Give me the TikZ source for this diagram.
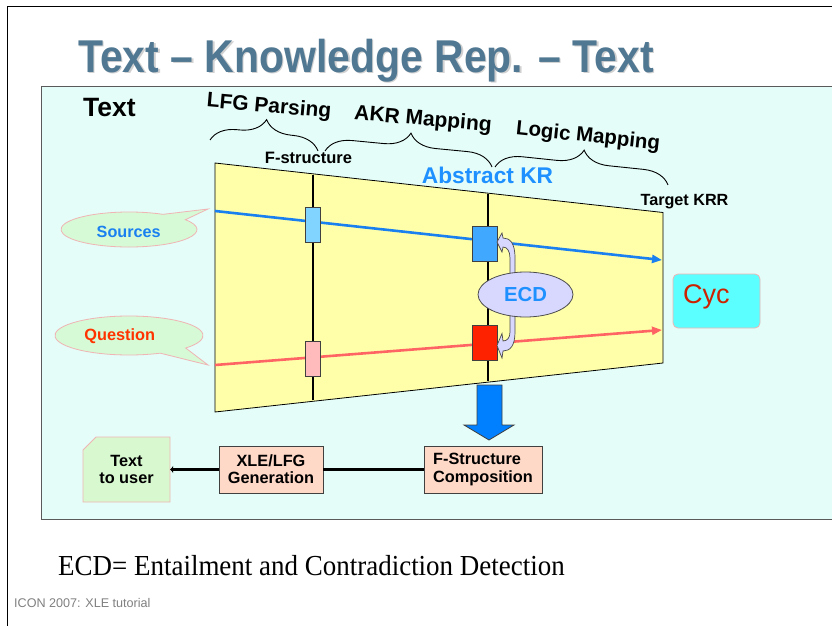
\documentclass[tikz,border=0pt]{standalone}
\usepackage{fontspec}
\setmainfont{Liberation Serif}
\newfontfamily\arialf{Liberation Sans}
\usetikzlibrary{arrows.meta,shapes.geometric,decorations.pathreplacing,calc}

\definecolor{titleblue}{RGB}{80,120,146}
\definecolor{panelbg}{RGB}{228,253,248}
\definecolor{panelbd}{RGB}{90,90,90}
\definecolor{quadyellow}{RGB}{255,255,170}
\definecolor{srcblue}{RGB}{26,128,240}
\definecolor{textblue}{RGB}{30,144,255}
\definecolor{qred}{RGB}{255,100,100}
\definecolor{qtext}{RGB}{255,51,0}
\definecolor{boxlblue}{RGB}{128,212,255}
\definecolor{boxmblue}{RGB}{64,168,255}
\definecolor{boxred}{RGB}{255,34,0}
\definecolor{boxpink}{RGB}{255,187,187}
\definecolor{callfill}{RGB}{214,250,214}
\definecolor{callbd}{RGB}{240,180,180}
\definecolor{ecdfill}{RGB}{216,216,255}
\definecolor{cycfill}{RGB}{92,255,255}
\definecolor{cyctext}{RGB}{204,34,0}
\definecolor{downblue}{RGB}{0,128,255}
\definecolor{peach}{RGB}{255,217,200}
\definecolor{userfill}{RGB}{216,248,208}

\begin{document}
\begin{tikzpicture}[x=1pt,y=-1pt,
  lbl/.style={font=\arialf\bfseries\fontsize{16.3}{17.3}\selectfont, inner sep=0pt},
  hdr/.style={font=\arialf\bfseries\fontsize{21}{24}\selectfont, inner sep=0pt},
  smallbox/.style={draw=black!75, line width=0.8pt, minimum width=15pt, minimum height=35pt, inner sep=0pt},
  akrbox/.style={draw=black!75, line width=0.8pt, minimum width=25pt, minimum height=35pt, inner sep=0pt},
  procbox/.style={draw=black!75, fill=peach, line width=0.8pt, minimum height=47pt, inner sep=0pt,
     font=\arialf\bfseries\fontsize{16.3}{17.3}\selectfont},
  flowline/.style={line width=2.6pt},
  stageline/.style={line width=2.8pt},
  brc/.style={decorate, decoration={brace, amplitude=26pt}, line width=0.9pt},
  callout/.style={fill=callfill, draw=callbd, line width=0.8pt},
  ecdarrow/.style={fill=ecdfill, draw=black!70, line width=0.7pt},
]
\useasboundingbox (0,0) rectangle (832,626);
\fill[white] (0,0) rectangle (832,626);

% slide frame
\coordinate (fTL) at (7,6);
\coordinate (fTR) at (832,6);
\coordinate (fBL) at (7,626);
\draw[line width=0.8pt] (fTR) -- (fTL) -- (fBL);

% title with shadow
\node[anchor=base west, inner sep=0pt, xscale=0.89, text=black!18,
  font=\arialf\bfseries\fontsize{46}{50}\selectfont] (titleshadow) at (79.5,73.8) {Text – Knowledge Rep. – Text};
\node[anchor=base west, inner sep=0pt, xscale=0.89, text=titleblue,
  font=\arialf\bfseries\fontsize{46}{50}\selectfont] (title) at (78,72) {Text – Knowledge Rep. – Text};

% panel
\fill[panelbg] (41,86.5) rectangle (832,519);
\coordinate (pTR) at (832,86.5);
\coordinate (pTL) at (41,86.5);
\coordinate (pBL) at (41,519);
\coordinate (pBR) at (832,519);
\draw[panelbd, line width=1pt] (pTR) -- (pTL) -- (pBL) -- (pBR);

\node[anchor=base west, inner sep=0pt, font=\arialf\bfseries\fontsize{26.5}{30}\selectfont] (textlbl) at (83,116) {Text};

% braces and stage labels
\coordinate (b1a) at (210,140); \coordinate (b1b) at (318,151);
\coordinate (b2a) at (325,151); \coordinate (b2b) at (492,167);
\coordinate (b3a) at (495,167); \coordinate (b3b) at (668,185);
\draw[brc] (b1a) -- (b1b);
\draw[brc] (b2a) -- (b2b);
\draw[brc] (b3a) -- (b3b);
\node[hdr, rotate=-5] (lfgp) at (269,107) {LFG Parsing};
\node[hdr, rotate=-5] (akrm) at (423,120) {AKR Mapping};
\node[hdr, rotate=-6, font=\arialf\bfseries\fontsize{20.5}{24}\selectfont] (logm) at (588,137) {Logic Mapping};

\node[anchor=base, inner sep=0pt, font=\arialf\bfseries\fontsize{16.5}{18}\selectfont] (fstr) at (308.5,163.5) {F-structure};
\node[anchor=base, inner sep=0pt, text=textblue, font=\arialf\bfseries\fontsize{22.7}{26}\selectfont] (akr) at (487.5,183.5) {Abstract KR};
\node[anchor=base, inner sep=0pt, font=\arialf\bfseries\fontsize{16.2}{18}\selectfont] (tkrr) at (684.5,205) {Target KRR};

% yellow trapezoid
\coordinate (qTL) at (215,163);
\coordinate (qTR) at (663,212.5);
\coordinate (qBR) at (663,363);
\coordinate (qBL) at (215,412);
\filldraw[fill=quadyellow, draw=black, line width=0.8pt] (qTL) -- (qTR) -- (qBR) -- (qBL) -- cycle;

% flows
\coordinate (s0) at (215,211); \coordinate (s1) at (662,260);
\coordinate (q0) at (215,365); \coordinate (q1) at (662,330);
\draw[srcblue, line width=2.6pt, -{Triangle[length=10pt,width=8pt]}] (s0) -- (s1);
\draw[qred, line width=2.6pt, -{Triangle[length=10pt,width=8pt]}] (q0) -- (q1);

% stage lines
\coordinate (v1a) at (313,175); \coordinate (v1b) at (313,400);
\coordinate (v2a) at (488,194); \coordinate (v2b) at (488,381);
\draw[stageline] (v1a) -- (v1b);
\draw[stageline] (v2a) -- (v2b);

% boxes on lines
\node[smallbox, fill=boxlblue] (fs1) at (313,224.5) {};
\node[smallbox, fill=boxpink] (fs2) at (313,359) {};
\node[akrbox, fill=boxmblue] (ak1) at (484.5,243.5) {};
\node[akrbox, fill=boxred] (ak2) at (484.5,343) {};

% ECD curved arrows
\filldraw[ecdarrow] (515,280) -- (515,258) .. controls (515,243) and (510,238) .. (503,238)
  -- (502,233) -- (497,242) -- (502,252) -- (503,247) .. controls (507,247) and (510,251) .. (510,258)
  -- (510,280) -- cycle;
\filldraw[ecdarrow] (515,310) -- (515,332) .. controls (515,346) and (510,351) .. (503,351)
  -- (502,358) -- (497,345.5) -- (502,333.5) -- (503,341) .. controls (507,341) and (510,338) .. (510,332)
  -- (510,310) -- cycle;
\node[ellipse, fill=ecdfill, draw=black!70, line width=0.8pt, minimum width=95pt, minimum height=45pt,
  inner sep=0pt, text=textblue, font=\arialf\bfseries\fontsize{20.3}{22}\selectfont] (ecd) at (525.5,294.5) {ECD};

% callouts
\filldraw[callout] ($(129,229.5)+(60:68pt and 17.5pt)$) arc[start angle=60, end angle=394, x radius=68pt, y radius=17.5pt] -- (208,209) -- cycle;
\node[anchor=base, inner sep=0pt, text=srcblue, font=\arialf\bfseries\fontsize{16.2}{18}\selectfont] (sources) at (128.7,237) {Sources};
\filldraw[callout] ($(129,335.5)+(-40:74pt and 19.5pt)$) arc[start angle=-40, end angle=295, x radius=74pt, y radius=19.5pt] -- (208,365) -- cycle;
\node[anchor=base, inner sep=0pt, text=qtext, font=\arialf\bfseries\fontsize{16.3}{18}\selectfont] (question) at (119.7,340.5) {Question};

% Cyc
\node[rounded corners=5pt, fill=cycfill, draw=callbd, line width=0.8pt, minimum width=87pt, minimum height=54pt, inner sep=0pt] (cyc) at (716.5,301) {};
\node[anchor=base west, inner sep=0pt, text=cyctext, font=\arialf\fontsize{27}{30}\selectfont] (cyclbl) at (683,303) {Cyc};

% big down arrow
\filldraw[fill=downblue, draw=black!75, line width=0.8pt] (477,385) -- (502,385) -- (502,425) -- (514,425) -- (489,440) -- (464,425) -- (477,425) -- cycle;

% bottom process row
\node[procbox, minimum width=118pt, align=left] (fsc) at (483,469.5) {F-Structure\\Composition};
\node[procbox, minimum width=104pt, align=center] (xle) at (271,469.5) {XLE/LFG\\Generation};
\filldraw[fill=userfill, draw=callbd, line width=0.8pt] (83,450) -- (96,437) -- (170,437) -- (170,502) -- (83,502) -- cycle;
\node[lbl, minimum width=87pt, minimum height=65pt, align=center] (ttu) at (126.5,469.5) {Text\\to user};
\draw[flowline] (fsc.west) -- (xle.east);
\draw[flowline, -{Latex[length=3pt,width=8pt]}] (xle.west) -- (ttu.east);

% footnotes
\node[anchor=base west, inner sep=0pt, xscale=0.93, font=\fontsize{29}{32}\selectfont] (ecddef) at (58,575) {ECD= Entailment and Contradiction Detection};
\node[anchor=base west, inner sep=0pt, text=black!50, font=\arialf\fontsize{12.6}{14}\selectfont] (footer) at (14,607) {ICON 2007: XLE tutorial};
\end{tikzpicture}
\end{document}
